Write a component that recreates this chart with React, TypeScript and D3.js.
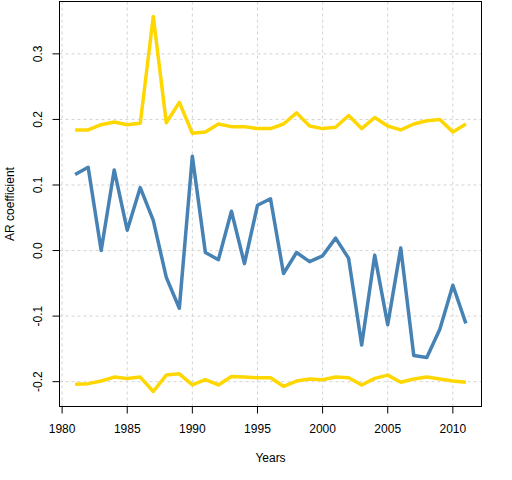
import * as d3 from "d3";
import * as React from "react";

const years: number[] = d3.range(1981, 2012);

// AR coefficient estimates per year
const arCoef: number[] = [
    0.116, 0.127, 0.000, 0.123, 0.031, 0.096, 0.046, -0.041, -0.088, 0.144,
    -0.003, -0.014, 0.060, -0.020, 0.069, 0.079, -0.035, -0.003, -0.017, -0.008,
    0.019, -0.012, -0.144, -0.007, -0.113, 0.004, -0.160, -0.163, -0.120, -0.053,
    -0.111,
];

const upperBand: number[] = [
    0.184, 0.184, 0.192, 0.196, 0.192, 0.194, 0.357, 0.195, 0.226, 0.179,
    0.181, 0.193, 0.189, 0.189, 0.186, 0.186, 0.193, 0.210, 0.190, 0.186,
    0.188, 0.206, 0.186, 0.203, 0.190, 0.184, 0.193, 0.198, 0.200, 0.181,
    0.193,
];

const lowerBand: number[] = [
    -0.204, -0.203, -0.199, -0.193, -0.195, -0.193, -0.215, -0.190, -0.188, -0.205,
    -0.197, -0.205, -0.192, -0.193, -0.194, -0.194, -0.207, -0.199, -0.196, -0.197,
    -0.193, -0.194, -0.205, -0.195, -0.190, -0.201, -0.196, -0.193, -0.196, -0.199,
    -0.201,
];

const xTicks: number[] = [1980, 1985, 1990, 1995, 2000, 2005, 2010];
const yTicks: number[] = [-0.2, -0.1, 0.0, 0.1, 0.2, 0.3];

const width = 512;
const height = 480;
const left = 59.5;
const right = 481.5;
const top = 1.5;
const bottom = 406.5;

// R-style 4% axis extension
function extend(lo: number, hi: number): [number, number] {
    const d = (hi - lo) * 0.04;
    return [lo - d, hi + d];
}

export default function App(): JSX.Element {
    const [x0, x1] = extend(d3.min(years)!, d3.max(years)!);
    const allY = [...arCoef, ...upperBand, ...lowerBand];
    const [y0, y1] = extend(d3.min(allY)!, d3.max(allY)!);

    const x = d3.scaleLinear().domain([x0, x1]).range([left, right]);
    const y = d3.scaleLinear().domain([y0, y1]).range([bottom, top]);

    const line = d3.line<number>()
        .x((_, i) => x(years[i]))
        .y(d => y(d));

    const font = "'Liberation Sans', Arial, sans-serif";

    return (
        <svg width={width} height={height}
            style={{ position: "absolute", left: 0, top: 0, background: "white" }}
            fontFamily={font} fontSize={12}>
            {/* grid */}
            <g stroke="#d3d3d3" strokeWidth={1} strokeDasharray="3,3">
                {xTicks.map(t => (
                    <line key={"gx" + t} x1={x(t)} x2={x(t)} y1={top} y2={bottom} />
                ))}
                {yTicks.map(t => (
                    <line key={"gy" + t} x1={left} x2={right} y1={y(t)} y2={y(t)} />
                ))}
            </g>

            <g fill="none" strokeWidth={3.5} strokeLinejoin="round">
                <path d={line(arCoef)!} stroke="steelblue" />
                <path d={line(upperBand)!} stroke="gold" />
                <path d={line(lowerBand)!} stroke="gold" />
            </g>

            <rect x={left} y={top} width={right - left} height={bottom - top}
                fill="none" stroke="black" strokeWidth={1} />

            {/* x axis */}
            <g stroke="black">
                {xTicks.map(t => (
                    <line key={"tx" + t} x1={x(t)} x2={x(t)} y1={bottom} y2={bottom + 7} />
                ))}
                {yTicks.map(t => (
                    <line key={"ty" + t} x1={left - 7} x2={left} y1={y(t)} y2={y(t)} />
                ))}
            </g>
            {xTicks.map(t => (
                <text key={"lx" + t} x={x(t)} y={433} textAnchor="middle">{t}</text>
            ))}
            {yTicks.map(t => (
                <text key={"ly" + t} transform={`translate(42,${y(t)}) rotate(-90)`}
                    textAnchor="middle">{d3.format(".1f")(t).replace("−", "-")}</text>
            ))}

            <text x={(left + right) / 2} y={462} textAnchor="middle">Years</text>
            <text transform={`translate(14,${(top + bottom) / 2}) rotate(-90)`}
                textAnchor="middle">AR coefficient</text>
        </svg>
    );
}
